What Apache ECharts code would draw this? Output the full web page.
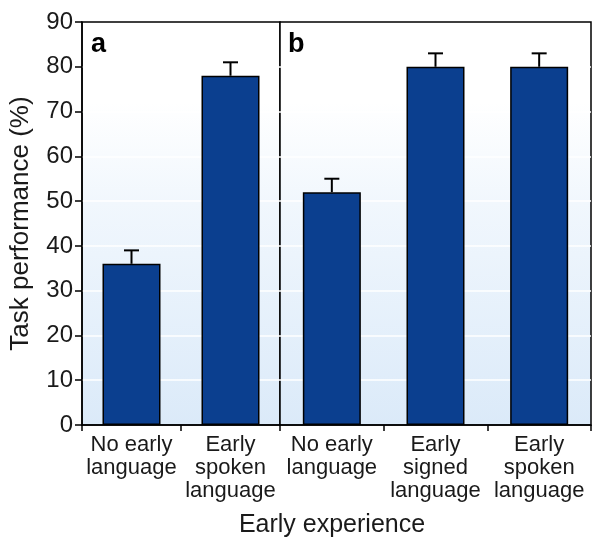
<!DOCTYPE html>
<html><head><meta charset="utf-8">
<script src="https://cdn.jsdelivr.net/npm/echarts@6/dist/echarts.min.js"></script>
<style>html,body{margin:0;padding:0;background:#fff}#c{width:600px;height:547px}</style>
</head><body><div id="c"></div>
<script>
const catsA = ['No early\nlanguage', 'Early\nspoken\nlanguage'];
const valsA = [36, 78];
const errA = [3, 3];
const catsB = ['No early\nlanguage', 'Early\nsigned\nlanguage', 'Early\nspoken\nlanguage'];
const valsB = [52, 80, 80];
const errB = [3, 3, 3];
const yTicks = [0, 10, 20, 30, 40, 50, 60, 70, 80, 90];

const FONT = 'Liberation Sans, Arial, sans-serif';
const bg = {type:'linear', x:0, y:0, x2:0, y2:1, colorStops:[
  {offset:0, color:'#ffffff'}, {offset:0.2, color:'#ffffff'},
  {offset:0.45, color:'#f1f7fd'}, {offset:1, color:'#dbeaf9'}]};

function errItem(params, api){
  const v = api.value(1), e = api.value(2);
  const p0 = api.coord([api.value(0), v]);
  const p1 = api.coord([api.value(0), v + e]);
  const hw = 7.5;
  return {type:'group', children:[
    {type:'line', shape:{x1:p0[0], y1:p0[1], x2:p1[0], y2:p1[1]}, style:{stroke:'#000', lineWidth:2}},
    {type:'line', shape:{x1:p1[0]-hw, y1:p1[1], x2:p1[0]+hw, y2:p1[1]}, style:{stroke:'#000', lineWidth:2}}
  ]};
}

const xCommon = {
  type:'category', boundaryGap:true,
  axisLine:{lineStyle:{color:'#000', width:1.5}},
  axisTick:{show:true, length:6, lineStyle:{color:'#000', width:1.5}},
  axisLabel:{fontFamily:FONT, fontSize:22, color:'#1a1a1a', lineHeight:23, margin:8, interval:0}
};
const yCommon = {
  type:'value', min:0, max:90, interval:10,
  splitLine:{show:true, showMaxLine:false, showMinLine:false, lineStyle:{color:'#ffffff', width:1.5}}
};

const chart = echarts.init(document.getElementById('c'), null, {renderer:'canvas'});
chart.setOption({
  animation:false,
  grid:[
    {left:82, top:22, width:198, height:403, show:true, backgroundColor:bg, borderColor:'#000', borderWidth:1.5},
    {left:280, top:22, width:311, height:403, show:true, backgroundColor:bg, borderColor:'#000', borderWidth:1.5}
  ],
  xAxis:[
    Object.assign({}, xCommon, {gridIndex:0, data:catsA}),
    Object.assign({}, xCommon, {gridIndex:1, data:catsB})
  ],
  yAxis:[
    Object.assign({}, yCommon, {gridIndex:0,
      axisLine:{show:true, lineStyle:{color:'#000', width:1.5}},
      axisTick:{show:true, length:7, lineStyle:{color:'#000', width:1.5}},
      axisLabel:{fontFamily:FONT, fontSize:24, color:'#1a1a1a', margin:9,
        formatter:v => yTicks.includes(v) ? String(v) : ''},
      name:'Task performance (%)', nameLocation:'middle', nameGap:48, nameRotate:90,
      nameTextStyle:{fontFamily:FONT, fontSize:26, color:'#1a1a1a'}}),
    Object.assign({}, yCommon, {gridIndex:1, axisLine:{show:false}, axisTick:{show:false}, axisLabel:{show:false}})
  ],
  series:[
    {type:'bar', xAxisIndex:0, yAxisIndex:0, data:valsA, barWidth:58,
      itemStyle:{color:'#0b3f8f', borderColor:'#000', borderWidth:1.5}},
    {type:'bar', xAxisIndex:1, yAxisIndex:1, data:valsB, barWidth:58,
      itemStyle:{color:'#0b3f8f', borderColor:'#000', borderWidth:1.5}},
    {type:'custom', xAxisIndex:0, yAxisIndex:0, renderItem:errItem, z:3,
      data:valsA.map((v,i)=>[i, v, errA[i]])},
    {type:'custom', xAxisIndex:1, yAxisIndex:1, renderItem:errItem, z:3,
      data:valsB.map((v,i)=>[i, v, errB[i]])}
  ],
  graphic:[
    {type:'text', left:91, top:31, style:{text:'a', font:'bold 27px '+FONT, fill:'#000'}},
    {type:'text', left:288, top:31, style:{text:'b', font:'bold 27px '+FONT, fill:'#000'}},
    {type:'text', x:332, y:525, style:{text:'Early experience', font:'25px '+FONT, fill:'#1a1a1a', textAlign:'center', textVerticalAlign:'middle'}}
  ]
});
</script></body></html>
